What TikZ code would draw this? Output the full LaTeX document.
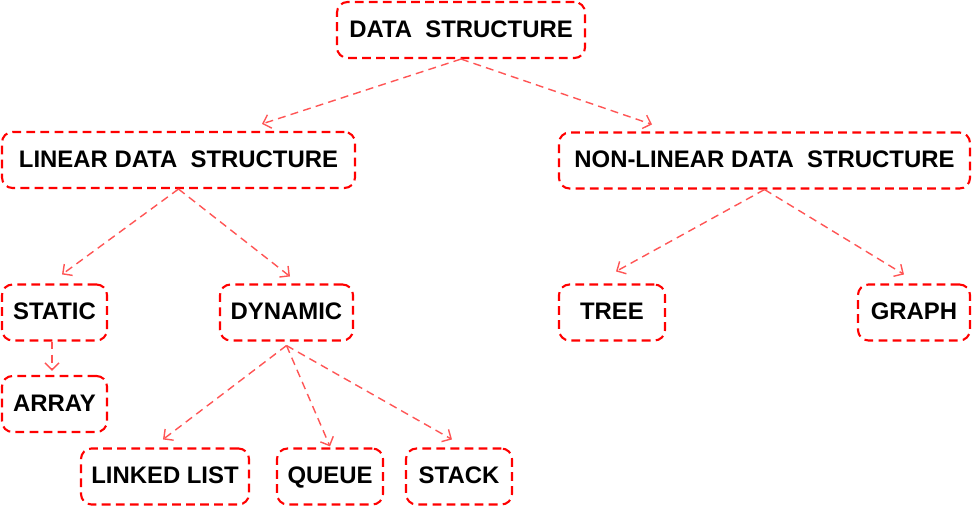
\documentclass[tikz,border=0pt]{standalone}
\usepackage{fontspec}
\setmainfont{Liberation Sans}
\usetikzlibrary{arrows.meta,positioning}
\definecolor{dsRed}{RGB}{255,0,0}
\definecolor{dsArrow}{RGB}{255,85,85}

\begin{document}
\begin{tikzpicture}[
    box/.style={rectangle, rounded corners=6pt, draw=dsRed, fill=white,
                minimum height=11.2mm, font=\bfseries\fontsize{13.6}{15}\selectfont,
                line width=1.2pt, dash pattern=on 5pt off 3pt, text=black, inner sep=2pt,
                text height=1.7ex, text depth=0.1ex},
    arr/.style={-{Straight Barb[length=4pt, width=8pt]}, dsArrow, line width=0.8pt,
                dash pattern=on 4.5pt off 3pt}
  ]
  \useasboundingbox (0,0) rectangle (19.48,-10.14);
  \node[box, minimum width=49.6mm] (ds) at (9.22,-0.6) {DATA\ \ STRUCTURE};
  \node[box, minimum width=70.6mm] (lds) at (3.57,-3.2) {LINEAR DATA\ \ STRUCTURE};
  \node[box, minimum width=82.2mm] (nlds) at (15.29,-3.21) {NON-LINEAR DATA\ \ STRUCTURE};
  \node[box, minimum width=21mm] (static) at (1.09,-6.25) {STATIC};
  \node[box, minimum width=26.6mm] (dynamic) at (5.73,-6.25) {DYNAMIC};
  \node[box, minimum width=21.2mm] (tree) at (12.24,-6.25) {TREE\ };
  \node[box, minimum width=22.4mm] (graph) at (18.28,-6.25) {GRAPH};
  \node[box, minimum width=21mm] (array) at (1.09,-8.08) {ARRAY};
  \node[box, minimum width=33.6mm] (linked) at (3.3,-9.53) {LINKED LIST};
  \node[box, minimum width=21.2mm] (queue) at (6.6,-9.53) {QUEUE};
  \node[box, minimum width=21.2mm] (stack) at (9.18,-9.53) {STACK};
  \draw[arr] (ds.south) -- ([shift={(1.67,0.14)}]lds.north);
  \draw[arr] (ds.south) -- ([shift={(-2.25,0.14)}]nlds.north);
  \draw[arr] (lds.south) -- ([shift={(0.15,0.18)}]static.north);
  \draw[arr] (lds.south) -- ([shift={(0.07,0.14)}]dynamic.north);
  \draw[arr] (nlds.south) -- ([shift={(0.08,0.24)}]tree.north);
  \draw[arr] (nlds.south) -- ([shift={(-0.2,0.18)}]graph.north);
  \draw[arr] ([xshift=-0.05cm]static.south) -- ([shift={(-0.05,0.08)}]array.north);
  \draw[arr] ([yshift=-0.08cm]dynamic.south) -- ([shift={(-0.04,0.16)}]linked.north);
  \draw[arr] ([yshift=-0.08cm]dynamic.south) -- ([shift={(0,0.02)}]queue.north);
  \draw[arr] ([yshift=-0.08cm]dynamic.south) -- ([shift={(-0.14,0.16)}]stack.north);
\end{tikzpicture}
\end{document}
